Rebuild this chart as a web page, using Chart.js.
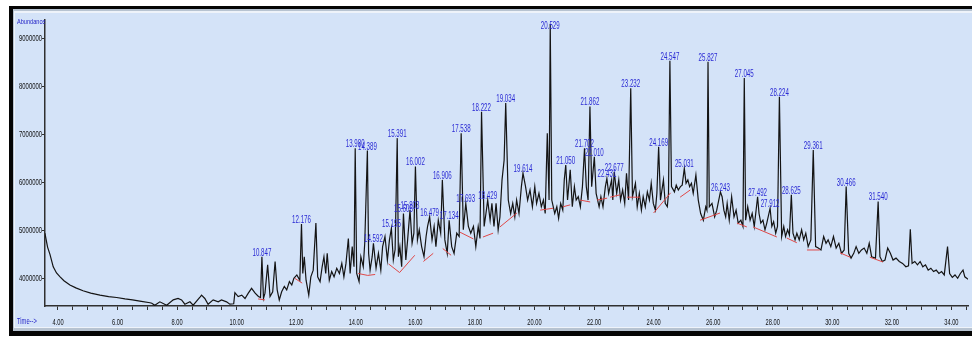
<!DOCTYPE html>
<html><head><meta charset="utf-8">
<script src="https://cdn.jsdelivr.net/npm/chart.js@4.4.1/dist/chart.umd.min.js"></script>
<style>html,body{margin:0;padding:0;background:#fff;}#wrap{width:972px;height:338px;}</style>
</head><body><div id="wrap"><canvas id="c" width="972" height="338"></canvas></div>
<script>
// ---- data (retention time in min, abundance in counts) ----
const times = [
3.56,3.65,3.73,3.84,3.95,4.07,4.20,4.40,4.60,4.84,
5.10,5.41,5.70,5.97,6.25,6.50,6.80,7.09,7.15,7.25,
7.42,7.65,7.87,8.03,8.15,8.26,8.43,8.54,8.76,8.82,
8.93,9.04,9.21,9.38,9.49,9.66,9.77,9.90,9.94,10.05,
10.17,10.28,10.39,10.50,10.62,10.73,10.80,10.847,10.90,10.95,
11.04,11.12,11.21,11.29,11.36,11.43,11.51,11.60,11.68,11.77,
11.85,11.92,12.02,12.12,12.176,12.22,12.27,12.33,12.42,12.49,
12.57,12.66,12.72,12.80,12.87,12.93,12.99,13.04,13.11,13.19,
13.27,13.36,13.45,13.53,13.60,13.67,13.75,13.81,13.88,13.94,
13.98,14.03,14.11,14.17,14.25,14.30,14.389,14.43,14.48,14.55,
14.592,14.68,14.76,14.84,14.90,14.98,15.06,15.13,15.195,15.26,
15.32,15.391,15.43,15.48,15.54,15.60,15.68,15.74,15.82,15.89,
15.95,16.002,16.07,16.13,16.21,16.29,16.36,16.41,16.479,16.56,
16.63,16.69,16.77,16.85,16.906,16.99,17.07,17.134,17.22,17.30,
17.39,17.47,17.538,17.61,17.693,17.78,17.86,17.95,18.03,18.11,
18.17,18.222,18.31,18.37,18.429,18.51,18.57,18.64,18.71,18.78,
18.84,18.91,18.98,19.034,19.12,19.20,19.27,19.34,19.40,19.48,
19.56,19.614,19.70,19.77,19.85,19.93,20.01,20.07,20.15,20.23,
20.30,20.36,20.43,20.49,20.529,20.58,20.68,20.75,20.81,20.88,
20.95,21.00,21.05,21.11,21.20,21.27,21.34,21.40,21.47,21.54,
21.61,21.68,21.74,21.80,21.862,21.92,22.01,22.07,22.17,22.23,
22.30,22.38,22.431,22.49,22.59,22.63,22.677,22.76,22.83,22.89,
22.96,23.03,23.09,23.16,23.232,23.29,23.39,23.45,23.52,23.59,
23.65,23.72,23.79,23.86,23.92,23.99,24.06,24.11,24.169,24.23,
24.33,24.39,24.46,24.50,24.547,24.60,24.70,24.76,24.83,24.90,
24.96,25.031,25.09,25.15,25.21,25.27,25.33,25.42,25.50,25.58,
25.67,25.75,25.79,25.827,25.87,25.96,26.05,26.12,26.243,26.30,
26.36,26.42,26.47,26.54,26.62,26.70,26.77,26.84,26.93,27.00,
27.045,27.09,27.16,27.24,27.31,27.38,27.492,27.54,27.60,27.67,
27.74,27.80,27.912,27.97,28.03,28.10,28.16,28.224,28.30,28.37,
28.43,28.50,28.56,28.625,28.68,28.75,28.81,28.89,28.97,29.04,
29.11,29.19,29.28,29.361,29.44,29.53,29.62,29.71,29.79,29.86,
29.95,30.04,30.13,30.22,30.31,30.40,30.466,30.55,30.63,30.72,
30.80,30.89,30.98,31.07,31.16,31.24,31.32,31.45,31.54,31.60,
31.68,31.77,31.86,31.95,32.04,32.14,32.25,32.36,32.47,32.56,
32.62,32.68,32.77,32.86,32.95,33.04,33.13,33.22,33.31,33.40,
33.49,33.58,33.67,33.76,33.87,33.94,34.03,34.12,34.21,34.30,
34.39,34.45,34.56];
const abundance = [
4940000,4650000,4500000,4240000,4110000,4030000,3950000,3860000,3800000,3740000,
3690000,3650000,3620000,3600000,3570000,3550000,3520000,3490000,3480000,3440000,
3510000,3440000,3550000,3580000,3550000,3460000,3510000,3440000,3600000,3650000,
3580000,3460000,3550000,3510000,3550000,3510000,3460000,3470000,3700000,3620000,
3650000,3580000,3690000,3790000,3690000,3620000,3600000,4450000,3580000,3690000,
4280000,3620000,3720000,4350000,3760000,3550000,3720000,3830000,3760000,3930000,
3860000,4000000,4070000,3960000,5130000,4100000,4450000,3960000,3650000,4030000,
4170000,5150000,4030000,3930000,4240000,4450000,4100000,4520000,3960000,4140000,
4030000,4210000,4100000,4310000,4030000,4310000,4830000,4100000,4660000,4240000,
6710000,4100000,3930000,4450000,4240000,4730000,6660000,4520000,4170000,4450000,
4730000,4210000,4520000,4170000,4660000,4870000,4380000,4800000,5040000,4380000,
4600000,6920000,4450000,4660000,4240000,5350000,4380000,4800000,5420000,4730000,
4940000,6330000,4800000,5010000,4660000,4450000,4870000,5080000,5280000,4800000,
5080000,4660000,5210000,4940000,6050000,4800000,4520000,5210000,4660000,4520000,
4940000,4870000,7020000,5010000,5560000,5080000,4940000,5080000,4660000,5080000,
4830000,7470000,5080000,5350000,5630000,5210000,5560000,5080000,5560000,5010000,
5280000,6050000,6460000,7650000,5630000,5350000,5560000,5280000,5630000,5350000,
5910000,6190000,5910000,5630000,5840000,5490000,5910000,5560000,5770000,5490000,
5630000,5350000,7020000,5630000,9300000,5630000,5350000,5490000,5250000,5560000,
5420000,6050000,6360000,5630000,6260000,5490000,5910000,5630000,5700000,5490000,
5910000,6710000,5910000,5630000,7580000,5910000,6530000,5770000,5490000,5700000,
5490000,5910000,6080000,5770000,6050000,5630000,6220000,5770000,6050000,5630000,
5840000,5560000,6190000,5630000,7960000,5700000,5980000,5490000,5770000,5420000,
5700000,5490000,5800000,5630000,5980000,5560000,5420000,5770000,6740000,5630000,
6050000,5560000,5490000,5770000,8530000,5910000,5800000,5940000,5840000,5910000,
5940000,6290000,5980000,6050000,5910000,5980000,5770000,6150000,5630000,5350000,
5210000,5490000,5420000,8510000,5490000,5560000,5280000,5420000,5800000,5700000,
5420000,5280000,5560000,5210000,5700000,5280000,5420000,5150000,5210000,5080000,
8170000,5210000,5490000,5210000,5350000,5080000,5700000,5350000,5150000,5210000,
5010000,5150000,5460000,5080000,5180000,4940000,5080000,7780000,4870000,5080000,
4870000,5010000,4900000,5740000,4940000,4800000,4940000,4800000,5010000,4800000,
4940000,4660000,4800000,6670000,4660000,4630000,4590000,4870000,4730000,4800000,
4660000,4870000,4630000,4730000,4520000,4590000,5910000,4520000,4420000,4520000,
4660000,4520000,4590000,4630000,4520000,4730000,4450000,4420000,5600000,4450000,
4350000,4380000,4630000,4520000,4380000,4420000,4350000,4310000,4240000,4260000,
5020000,4310000,4350000,4280000,4350000,4240000,4280000,4170000,4210000,4140000,
4170000,4100000,4140000,4070000,4660000,4100000,4020000,4070000,4000000,4100000,
4170000,4030000,3980000];

// integration baselines (null = break between segments)
const baselineTimes = [10.72,10.95,10.95, 11.95,12.20,12.20, 14.08,14.40,14.65,14.65, 15.10,15.47,15.98,15.98,
 16.27,16.60,16.60, 16.92,17.20,17.20, 17.50,17.95,17.95, 18.27,18.61,18.61, 18.84,19.41,19.41,
 20.19,20.63,20.63, 20.96,21.20,21.20, 21.53,21.87,21.87, 22.10,22.44,22.44, 22.54,22.88,22.88,
 23.11,23.55,23.55, 24.00,24.57,24.57, 24.89,25.23,25.23, 25.56,26.23,26.23, 26.80,27.13,27.13,
 27.34,28.14,28.14, 28.47,28.81,28.81, 29.15,29.58,29.58, 30.26,30.60,30.60, 31.26,31.70];
const baselineAbundance = [3570000,3550000,null, 4000000,3900000,null, 4100000,4060000,4080000,null, 4300000,4120000,4480000,null,
 4350000,4520000,null, 4620000,4480000,null, 4960000,4820000,null, 4860000,4940000,null, 5070000,5360000,null,
 5420000,5460000,null, 5490000,5530000,null, 5630000,5590000,null, 5630000,5670000,null, 5690000,5740000,null,
 5690000,5690000,null, 5360000,5780000,null, 5690000,5840000,null, 5210000,5360000,null, 5150000,5070000,null,
 5070000,4860000,null, 4840000,4740000,null, 4590000,4590000,null, 4530000,4440000,null, 4440000,4340000];

// labelled peaks
const peakLabels = ["10.847","12.176","13.980","14.389","14.592","15.195","15.391","15.606","15.803","16.002",
 "16.479","16.906","17.134","17.538","17.693","18.222","18.429","19.034","19.614","20.529",
 "21.050","21.702","21.862","22.010","22.431","22.677","23.232","24.169","24.547","25.031",
 "25.827","26.243","27.045","27.492","27.912","28.224","28.625","29.361","30.466","31.540"];
const peakTimes = [10.847,12.176,13.98,14.389,14.592,15.195,15.391,15.60,15.82,16.002,
 16.479,16.906,17.134,17.538,17.693,18.222,18.429,19.034,19.614,20.529,
 21.05,21.68,21.862,22.01,22.431,22.677,23.232,24.169,24.547,25.031,
 25.827,26.243,27.045,27.492,27.912,28.224,28.625,29.361,30.466,31.54];
const peakAbundance = [4450000,5130000,6710000,6660000,4730000,5040000,6920000,5350000,5420000,6330000,
 5280000,6050000,5210000,7020000,5560000,7470000,5630000,7650000,6190000,9300000,
 6360000,6710000,7580000,6530000,6080000,6220000,7960000,6740000,8530000,6290000,
 8510000,5800000,8170000,5700000,5460000,7780000,5740000,6670000,5910000,5600000];

// axis ticks
const xLabelValues = [4,6,8,10,12,14,16,18,20,22,24,26,28,30,32,34];
const yTickValues = [4000000,5000000,6000000,7000000,8000000,9000000];
const X_MIN = 3.5635, X_MAX = 34.557, Y_MIN = 3422900, Y_MAX = 9381000;

const xMinorTicks = [];
for (let v = 4; v <= 34.5001; v += 0.5) xMinorTicks.push(Math.round(v * 10) / 10);

const FONT = '"Liberation Sans",Arial,sans-serif';
const BG = '#d4e3f8';

const traceData = times.map((t, i) => ({x: t, y: abundance[i]}));
const baseData = baselineTimes.map((t, i) => ({x: t, y: baselineAbundance[i]}));

function squeezedText(ctx, txt, x, y, sx, align) {
  ctx.save(); ctx.translate(x, y); ctx.scale(sx, 1); ctx.textAlign = align; ctx.fillText(txt, 0, 0); ctx.restore();
}

const framePlugin = {
  id: 'frame',
  beforeDraw(chart) {
    const ctx = chart.ctx;
    ctx.save();
    ctx.fillStyle = '#ffffff'; ctx.fillRect(0, 0, 972, 338);
    ctx.fillStyle = '#050505'; ctx.fillRect(9, 6, 980, 330);
    ctx.fillStyle = '#b7c3d1'; ctx.fillRect(13, 9, 980, 322);
    ctx.fillStyle = '#eef3fa'; ctx.fillRect(14, 11, 980, 317);
    ctx.fillStyle = BG; ctx.fillRect(15, 13, 980, 314);
    ctx.restore();
  },
  afterDraw(chart) {
    const ctx = chart.ctx;
    const xs = chart.scales.x, ys = chart.scales.y;
    ctx.save();
    ctx.textBaseline = 'middle';
    // axis tick labels, positioned by the chart's scales
    ctx.fillStyle = '#111';
    ctx.font = '9.5px ' + FONT;
    ys.ticks.forEach(t => squeezedText(ctx, String(t.value), 42, ys.getPixelForValue(t.value), 0.62, 'right'));
    xs.ticks.forEach(t => {
      if (xLabelValues.includes(t.value)) squeezedText(ctx, t.value.toFixed(2), xs.getPixelForValue(t.value), 322, 0.6, 'center');
    });
    // axis titles
    ctx.fillStyle = '#2626c8';
    ctx.font = '8px ' + FONT;
    squeezedText(ctx, 'Abundance', 17, 22, 0.7, 'left');
    ctx.font = '9px ' + FONT;
    squeezedText(ctx, 'Time-->', 17, 322, 0.64, 'left');
    ctx.restore();
  }
};

const peakLabelPlugin = {
  id: 'peakLabels',
  afterDatasetsDraw(chart) {
    const {ctx, chartArea} = chart;
    const xs = chart.scales.x, ys = chart.scales.y;
    ctx.save();
    ctx.fillStyle = '#2a2ad4';
    ctx.font = '11px ' + FONT;
    ctx.textBaseline = 'alphabetic';
    peakLabels.forEach((txt, i) => {
      const px = xs.getPixelForValue(peakTimes[i]);
      let py = ys.getPixelForValue(peakAbundance[i]) - 1;
      if (py - 8 < chartArea.top + 1) py = chartArea.top + 9;
      squeezedText(ctx, txt, px, py, 0.56, 'center');
    });
    ctx.restore();
  }
};

new Chart(document.getElementById('c'), {
  type: 'scatter',
  data: {
    datasets: [
      {data: baseData, showLine: true, spanGaps: false, borderColor: '#e04848', borderWidth: 1, pointRadius: 0, order: 0},
      {data: traceData, showLine: true, borderColor: '#141414', borderWidth: 1.2, pointRadius: 0, order: 1}
    ]
  },
  options: {
    responsive: false, animation: false, devicePixelRatio: 1,
    layout: {padding: {left: 0, right: 4, top: 20, bottom: 0}},
    plugins: {legend: {display: false}, tooltip: {enabled: false}},
    elements: {line: {tension: 0}},
    scales: {
      x: {
        type: 'linear', min: X_MIN, max: X_MAX,
        afterBuildTicks(s) { s.ticks = xMinorTicks.map(v => ({value: v})); },
        afterFit(s) { s.height = 32; },
        ticks: {display: false, autoSkip: false, maxRotation: 0},
        grid: {drawOnChartArea: false, drawTicks: true, tickLength: 4, color: '#303030', lineWidth: 1},
        border: {display: true, color: '#303030', width: 1.5}
      },
      y: {
        type: 'linear', min: Y_MIN, max: Y_MAX,
        afterBuildTicks(s) { s.ticks = yTickValues.map(v => ({value: v})); },
        afterFit(s) { s.width = 45; },
        ticks: {display: false, autoSkip: false},
        grid: {drawOnChartArea: false, drawTicks: true, tickLength: 3, color: '#303030', lineWidth: 1},
        border: {display: true, color: '#303030', width: 1.5}
      }
    }
  },
  plugins: [framePlugin, peakLabelPlugin]
});
</script></body></html>
